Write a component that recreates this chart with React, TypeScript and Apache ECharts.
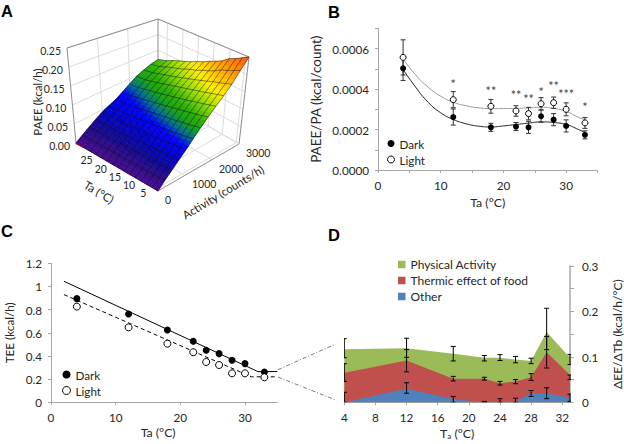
import React, { useEffect, useRef } from "react";
import * as echarts from "echarts";

const FONT = "Lato";
const TEXT = "#262626";
const AXIS = "#a6a6a6";

// ---- Panel A: PAEE surface ----
const surfaceTa = [4, 6, 8, 10, 12, 14, 16, 18, 20, 22, 24, 26, 28, 30, 33];
const surfaceActivity = [0, 250, 500, 750, 1000, 1250, 1500, 1750, 2000, 2250, 2500, 2750, 3000];
const surfacePaee = [
  [0, .017, .033, .050, .067, .087, .107, .127, .147, .167, .190, .220, .250],
  [0, .016, .032, .048, .065, .084, .103, .122, .142, .162, .184, .212, .240],
  [0, .016, .031, .047, .063, .081, .099, .118, .137, .157, .178, .204, .230],
  [0, .015, .030, .046, .061, .078, .096, .114, .133, .152, .173, .198, .222],
  [0, .015, .029, .044, .059, .075, .092, .110, .128, .147, .166, .187, .208],
  [0, .014, .028, .043, .057, .073, .089, .106, .123, .142, .160, .179, .198],
  [0, .014, .028, .042, .055, .070, .086, .102, .119, .137, .154, .172, .190],
  [0, .013, .027, .040, .053, .068, .083, .098, .114, .132, .148, .164, .180],
  [0, .013, .026, .039, .051, .065, .080, .094, .110, .127, .142, .158, .172],
  [0, .013, .025, .038, .049, .062, .076, .090, .105, .122, .136, .150, .163],
  [0, .012, .024, .036, .047, .059, .072, .086, .101, .116, .130, .143, .155],
  [0, .012, .024, .035, .046, .056, .068, .082, .097, .111, .125, .137, .148],
  [0, .012, .023, .034, .045, .054, .064, .078, .092, .106, .119, .130, .140],
  [0, .011, .023, .034, .044, .053, .061, .074, .088, .101, .113, .122, .130],
  [0, .011, .022, .033, .044, .052, .060, .072, .085, .098, .107, .115, .120],
];
const surfaceColorStops: [number, number[]][] = [
  [0, [70, 10, 140]],
  [0.015, [45, 10, 135]],
  [0.03, [14, 8, 150]],
  [0.05, [0, 0, 205]],
  [0.07, [0, 0, 250]],
  [0.085, [0, 110, 140]],
  [0.1, [20, 160, 20]],
  [0.115, [40, 175, 0]],
  [0.14, [150, 220, 0]],
  [0.165, [255, 238, 0]],
  [0.2, [255, 165, 0]],
  [0.25, [255, 80, 0]],
];
const wallPaeeTicks = [0, 0.05, 0.1, 0.15, 0.2, 0.25];
const wallActivityTicks = [1000, 2000];
const wallTaTicks = [5, 10, 15, 20, 25, 30];
const activityLabels = [0, 1000, 2000, 3000];

// ---- Panel B ----
const tempsB = [4, 12, 18, 22, 24, 26, 28, 30, 33];
const darkB = [.000503, .000262, .000211, .000215, .000211, .000266, .000249, .000218, .000174];
const darkBErr = [.00006, .00004, .00002, .00002, .00003, .00003, .00003, .00003, .00002];
const lightB = [.000557, .000348, .000315, .000292, .000279, .000328, .000333, .0003, .000233];
const lightBErr = [.000087, .00004, .000034, .000026, .000031, .00003, .000028, .000032, .000027];
const darkBTrend = [[4, .000497], [6, .00041], [8, .000335], [10, .000283], [12, .00025], [14, .000229], [16, .000217], [18, .000213], [20, .000218], [22, .000225], [24, .000232], [26, .000238], [28, .000235], [30, .000225], [32, .0002], [33, .000185]];
const lightBTrend = [[4, .00055], [6, .00047], [8, .00041], [10, .000365], [12, .000335], [14, .000318], [16, .000308], [18, .000304], [20, .000304], [22, .000305], [24, .000307], [26, .00031], [28, .000305], [30, .00029], [32, .00026], [33, .00025]];
const starsB: [number, number, string][] = [
  [12, .000438, "*"], [18, .000405, "**"], [22, .000384, "**"], [24, .000366, "**"],
  [26, .0004, "*"], [28, .000426, "**"], [30, .000389, "***"], [33, .000323, "*"],
];

// ---- Panel C ----
const tempsC = [4, 12, 18, 22, 24, 26, 28, 30, 33];
const darkC = [.895, .762, .624, .527, .45, .42, .363, .334, .262];
const lightC = [.826, .647, .506, .432, .348, .322, .25, .25, .216];
const darkCFit = [[2, 1.045], [32, .265], [35, .265]];
const lightCFit = [[2, .93], [31, .22], [35, .22]];

// ---- Panel D (upper edge of each band) ----
const tempsD = [4, 12, 18, 22, 24, 26, 28, 30, 33];
const otherTop = [0, .03, .007, 0, .002, .002, .02, .02, .01];
const thermicTop = [.065, .092, .052, .052, .042, .046, .055, .11, .06];
const activityTop = [.117, .119, .107, .098, .098, .094, .091, .155, .098];
const otherHi = [.022, .043, .013, .002, .008, .009, .026, .032, .018];
const otherLo = [0, .02, 0, 0, 0, 0, .013, .008, .002];
const thermicHi = [.085, .116, .057, .055, .046, .05, .063, .145, .06];
const thermicLo = [.046, .067, .047, .049, .038, .041, .048, .0755, .05];
const activityHi = [.14, .141, .123, .103, .105, .101, .097, .207, .105];
const activityLo = [.098, .099, .091, .091, .092, .087, .085, .116, .083];

// ---- projection of panel A (trilinear between the box's corners) ----
const boxFloor = { F: [158, 191], R: [239, 144], L: [76, 143], B: [158, 97] };
const boxTop = { F: [158, 92], R: [249, 57], L: [67, 48], B: [158, 19] };
const project = (u: number, v: number, w: number): number[] => {
  const at = (k: number) => {
    const bi = (c: any) =>
      (1 - u) * (1 - v) * c.F[k] + u * (1 - v) * c.R[k] + (1 - u) * v * c.L[k] + u * v * c.B[k];
    return bi(boxFloor) * (1 - w) + bi(boxTop) * w;
  };
  return [at(0), at(1)];
};
const uOf = (a: number) => a / 3000;
const vOf = (t: number) => (t - 4) / 29;
const wOf = (z: number) => z / 0.25;

const colorOf = (z: number): string => {
  const s = surfaceColorStops;
  for (let i = 1; i < s.length; i++) {
    if (z <= s[i][0]) {
      const t = (z - s[i - 1][0]) / (s[i][0] - s[i - 1][0]);
      const c = s[i - 1][1].map((a, k) => Math.round(a + (s[i][1][k] - a) * t));
      return `rgb(${c[0]},${c[1]},${c[2]})`;
    }
  }
  const c = s[s.length - 1][1];
  return `rgb(${c[0]},${c[1]},${c[2]})`;
};

const surfaceCells: number[][] = [];
for (let r = surfaceTa.length - 2; r >= 0; r--) {
  for (let c = surfaceActivity.length - 2; c >= 0; c--) surfaceCells.push([r, c]);
}

const renderSurfaceCell = (_p: any, api: any) => {
  const r = api.value(0);
  const c = api.value(1);
  const SUB = 3;
  const children: any[] = [];
  const pt = (a: number, b: number) => {
    const ta = surfaceTa[r] + (surfaceTa[r + 1] - surfaceTa[r]) * a;
    const ac = surfaceActivity[c] + (surfaceActivity[c + 1] - surfaceActivity[c]) * b;
    const z =
      (1 - a) * (1 - b) * surfacePaee[r][c] + (1 - a) * b * surfacePaee[r][c + 1] +
      a * (1 - b) * surfacePaee[r + 1][c] + a * b * surfacePaee[r + 1][c + 1];
    return { p: project(uOf(ac), vOf(ta), wOf(z)), z };
  };
  for (let i = SUB - 1; i >= 0; i--) {
    for (let j = SUB - 1; j >= 0; j--) {
      const q = [pt(i / SUB, j / SUB), pt(i / SUB, (j + 1) / SUB), pt((i + 1) / SUB, (j + 1) / SUB), pt((i + 1) / SUB, j / SUB)];
      const col = colorOf((q[0].z + q[1].z + q[2].z + q[3].z) / 4);
      children.push({
        type: "polygon",
        shape: { points: q.map((o) => o.p) },
        style: { fill: col, stroke: col, lineWidth: 0.6 },
      });
    }
  }
  return { type: "group", children };
};

const meshLines: number[][] = [
  ...surfaceTa.map((_, i) => [0, i]),
  ...surfaceActivity.map((_, i) => [1, i]),
];
const renderMeshLine = (_p: any, api: any) => {
  const kind = api.value(0);
  const idx = api.value(1);
  const points =
    kind === 0
      ? surfaceActivity.map((a, c) => project(uOf(a), vOf(surfaceTa[idx]), wOf(surfacePaee[idx][c])))
      : surfaceTa.map((t, r) => project(uOf(surfaceActivity[idx]), vOf(t), wOf(surfacePaee[r][idx])));
  return {
    type: "polyline",
    shape: { points },
    style: { stroke: "rgba(10,10,30,0.65)", lineWidth: 0.7, fill: "none" },
  };
};

const seg = (a: number[], b: number[], stroke: string, lineWidth = 1) => ({
  type: "line",
  shape: { x1: a[0], y1: a[1], x2: b[0], y2: b[1] },
  style: { stroke, lineWidth },
});
const label3d = (text: string, x: number, y: number, align = "center", rotation = 0, fontSize = 10.5) => ({
  type: "text",
  x,
  y,
  rotation,
  style: { text, fontFamily: FONT, fontSize, fill: TEXT, align, verticalAlign: "middle" },
});

const renderBox = () => {
  const children: any[] = [];
  const GRID = "#dcdcdc";
  const FRAME = "#8c8c8c";
  wallPaeeTicks.forEach((z) => {
    const w = wOf(z);
    children.push(seg(project(0, 1, w), project(1, 1, w), GRID));
    children.push(seg(project(1, 1, w), project(1, 0, w), GRID));
  });
  wallActivityTicks.forEach((a) => {
    const u = uOf(a);
    children.push(seg(project(u, 1, 0), project(u, 1, 1), GRID));
    children.push(seg(project(u, 0, 0), project(u, 1, 0), GRID));
  });
  wallTaTicks.forEach((t) => {
    const v = vOf(t);
    children.push(seg(project(1, v, 0), project(1, v, 1), GRID));
    children.push(seg(project(0, v, 0), project(1, v, 0), GRID));
  });
  children.push(seg(project(0, 1, 1), project(1, 1, 1), FRAME));
  children.push(seg(project(1, 1, 1), project(1, 0, 1), FRAME));
  children.push(seg(project(0, 1, 0), project(0, 1, 1), FRAME));
  children.push(seg(project(1, 0, 0), project(1, 0, 1), FRAME));
  children.push(seg(project(1, 1, 0), project(1, 1, 1), FRAME));
  children.push(seg(project(0, 0, 0), project(1, 0, 0), FRAME));
  children.push(seg(project(0, 0, 0), project(0, 1, 0), FRAME));
  children.push(seg(project(1, 0, 0), project(1, 1, 0), GRID));
  return { type: "group", children };
};

const renderBoxLabels = () => {
  const children: any[] = [];
  wallPaeeTicks.forEach((z) => {
    const p = project(0, 1, wOf(z));
    children.push(label3d(z.toFixed(2), p[0] - 6, p[1] + 3, "right"));
  });
  wallTaTicks.slice(0, 5).forEach((t) => {
    const p = project(0, vOf(t), 0);
    children.push(label3d(String(t), p[0] - 12, p[1] + 4));
  });
  activityLabels.forEach((a) => {
    const p = project(uOf(a), 0, 0);
    children.push(label3d(String(a), p[0] + 7, p[1] + 9, "left"));
  });
  children.push(label3d("PAEE (kcal/h)", 37, 102, "center", Math.PI / 2, 11.5));
  children.push(label3d("Ta (°C)", 99, 192, "center", -0.54, 11.5));
  children.push(label3d("Activity (counts/h)", 223, 192, "center", 0.54, 11.5));
  return { type: "group", children };
};

// ---- error bars ----
const errorSeries = (
  xAxisIndex: number,
  xs: number[],
  lo: number[],
  hi: number[],
  color: string,
  cap: number,
  z: number
) => ({
  type: "custom",
  xAxisIndex,
  yAxisIndex: xAxisIndex,
  clip: true,
  silent: true,
  z,
  data: xs.map((x, i) => [x, lo[i], hi[i]]),
  renderItem: (_p: any, api: any) => {
    const a = api.coord([api.value(0), api.value(1)]);
    const b = api.coord([api.value(0), api.value(2)]);
    const st = { stroke: color, lineWidth: 1 };
    return {
      type: "group",
      children: [
        { type: "line", shape: { x1: a[0], y1: a[1], x2: b[0], y2: b[1] }, style: st },
        { type: "line", shape: { x1: a[0] - cap, y1: a[1], x2: a[0] + cap, y2: a[1] }, style: st },
        { type: "line", shape: { x1: b[0] - cap, y1: b[1], x2: b[0] + cap, y2: b[1] }, style: st },
      ],
    };
  },
});

const pairs = (xs: number[], ys: number[]) => xs.map((x, i) => [x, ys[i]]);
const minus = (a: number[], b: number[]) => a.map((v, i) => v - b[i]);
const plus = (a: number[], b: number[]) => a.map((v, i) => v + b[i]);

const axisBase = {
  axisLine: { show: true, onZero: false, lineStyle: { color: AXIS, width: 1 } },
  axisTick: { show: true, length: 3, lineStyle: { color: AXIS } },
  splitLine: { show: false },
  nameTextStyle: { fontFamily: FONT, fontSize: 12.3, color: TEXT },
};
const labelBase = { fontFamily: FONT, fontSize: 11.7, color: TEXT };

const legendBase = {
  orient: "vertical",
  selectedMode: false,
  itemGap: 3,
  padding: 0,
  textStyle: { fontFamily: FONT, fontSize: 11.7, color: TEXT, lineHeight: 13 },
};
const darkIcon = { name: "Dark", icon: "circle", itemStyle: { color: "#000", borderWidth: 0 } };
const lightIcon = { name: "Light", icon: "circle", itemStyle: { color: "#fff", borderColor: "#000", borderWidth: 1 } };

const letter = (text: string, x: number, y: number) => ({
  type: "text",
  x,
  y,
  style: { text, fontFamily: "Liberation Sans", fontWeight: "bold", fontSize: 16.5, fill: "#000", align: "left", verticalAlign: "middle" },
});
const connector = (x1: number, y1: number, x2: number, y2: number) => ({
  type: "line",
  shape: { x1, y1, x2, y2 },
  style: { stroke: "#555", lineWidth: 0.8, lineDash: [4, 2, 1, 2] },
});
const bandSeries = (name: string, color: string, ys: number[]) => ({
  type: "line",
  name,
  xAxisIndex: 2,
  yAxisIndex: 2,
  showSymbol: false,
  silent: true,
  z: 2,
  lineStyle: { width: 0 },
  itemStyle: { color },
  areaStyle: { color, opacity: 1 },
  data: pairs(tempsD, ys),
});

const option: any = {
  animation: false,
  backgroundColor: "#fff",
  grid: [
    { left: 378, top: 28.5, width: 219.5, height: 141.5 },
    { left: 51, top: 263.3, width: 226.3, height: 139 },
    { left: 344.3, top: 266, width: 227.2, height: 136.3 },
  ],
  xAxis: [
    {
      ...axisBase, gridIndex: 0, type: "value", min: 0, max: 35, interval: 5,
      name: "Ta (°C)", nameLocation: "middle", nameGap: 26,
      axisLabel: { ...labelBase, margin: 9, formatter: (v: number) => (v % 10 === 0 && v < 35 ? String(v) : "") },
    },
    {
      ...axisBase, gridIndex: 1, type: "value", min: 0, max: 35, interval: 10,
      name: "Ta (°C)", nameLocation: "middle", nameGap: 24,
      nameTextStyle: { ...axisBase.nameTextStyle, padding: [0, 12, 0, 0] },
      axisLabel: { ...labelBase, margin: 9, showMaxLabel: false },
    },
    {
      ...axisBase, gridIndex: 2, type: "value", min: 4, max: 33, interval: 4,
      name: "T{sub|a} (°C)", nameLocation: "middle", nameGap: 25,
      nameTextStyle: { ...axisBase.nameTextStyle, rich: { sub: { fontFamily: FONT, fontSize: 8, color: TEXT, verticalAlign: "bottom", padding: [5, 0, 0, 0] } } },
      axisLabel: { ...labelBase, margin: 9, showMaxLabel: false },
    },
  ],
  yAxis: [
    {
      ...axisBase, gridIndex: 0, type: "value", min: 0, max: 0.0007, interval: 0.0001,
      name: "PAEE/PA (kcal/count)", nameLocation: "middle", nameGap: 55,
      nameTextStyle: { ...axisBase.nameTextStyle, fontSize: 13.5 },
      axisLabel: { ...labelBase, margin: 9, formatter: (v: number) => (Math.round(v / 0.0001) % 2 === 0 ? v.toFixed(4) : "") },
    },
    {
      ...axisBase, gridIndex: 1, type: "value", min: 0, max: 1.2, interval: 0.2,
      name: "TEE (kcal/h)", nameLocation: "middle", nameGap: 36,
      nameTextStyle: { ...axisBase.nameTextStyle, fontSize: 11.7 },
      axisLabel: { ...labelBase, margin: 9 },
    },
    {
      ...axisBase, gridIndex: 2, type: "value", min: 0, max: 0.3, interval: 0.05, position: "right",
      name: "ΔEE/ΔTb (kcal/h/°C)", nameLocation: "middle", nameGap: 41, nameRotate: 90,
      nameTextStyle: { ...axisBase.nameTextStyle, fontSize: 12 },
      axisLine: { show: true, onZero: false, lineStyle: { color: "#bfbfbf", width: 2 } },
      axisTick: { show: true, length: 4, lineStyle: { color: AXIS } },
      axisLabel: { ...labelBase, margin: 12, formatter: (v: number) => (Math.round(v * 100) % 10 === 0 ? String(v) : "") },
    },
  ],
  legend: [
    { ...legendBase, left: 387, top: 137, itemWidth: 7, itemHeight: 7, data: [darkIcon, lightIcon] },
    { ...legendBase, left: 62, top: 368, itemWidth: 8, itemHeight: 8, data: [darkIcon, lightIcon] },
    {
      ...legendBase, left: 398, top: 258, itemWidth: 7.5, itemHeight: 7.5,
      textStyle: { ...legendBase.textStyle, fontSize: 12 },
      data: [
        { name: "Physical Activity", icon: "rect" },
        { name: "Thermic effect of food", icon: "rect" },
        { name: "Other", icon: "rect" },
      ],
    },
  ],
  graphic: [
    letter("A", 1, 11),
    letter("B", 328, 12),
    letter("C", 1, 231),
    letter("D", 328, 235),
    connector(278, 369.7, 335, 344.3),
    connector(278, 377, 335, 399.7),
    { type: "line", shape: { x1: 75.5, y1: 143.5, x2: 83, y2: 147.5 }, z: 20, style: { stroke: "#d01010", lineWidth: 1 } },
  ],
  series: [
    { type: "custom", coordinateSystem: "none", silent: true, z: 1, data: [[0]], renderItem: renderBox },
    { type: "custom", coordinateSystem: "none", silent: true, z: 2, progressive: 0, data: surfaceCells, renderItem: renderSurfaceCell },
    { type: "custom", coordinateSystem: "none", silent: true, z: 3, data: meshLines, renderItem: renderMeshLine },
    { type: "custom", coordinateSystem: "none", silent: true, z: 4, data: [[0]], renderItem: renderBoxLabels },

    { type: "line", xAxisIndex: 0, yAxisIndex: 0, smooth: 0.5, showSymbol: false, silent: true, z: 2, lineStyle: { color: "#222", width: 1 }, data: darkBTrend },
    { type: "line", xAxisIndex: 0, yAxisIndex: 0, smooth: 0.5, showSymbol: false, silent: true, z: 2, lineStyle: { color: "#999", width: 1 }, data: lightBTrend },
    errorSeries(0, tempsB, minus(darkB, darkBErr), plus(darkB, darkBErr), "#333", 2.5, 3),
    errorSeries(0, tempsB, minus(lightB, lightBErr), plus(lightB, lightBErr), "#333", 2.5, 3),
    { type: "scatter", name: "Dark", xAxisIndex: 0, yAxisIndex: 0, symbolSize: 6, z: 4, itemStyle: { color: "#000", opacity: 1 }, data: pairs(tempsB, darkB) },
    { type: "scatter", name: "Light", xAxisIndex: 0, yAxisIndex: 0, symbolSize: 6, z: 4, itemStyle: { color: "#fff", borderColor: "#000", borderWidth: 1, opacity: 1 }, data: pairs(tempsB, lightB) },
    {
      type: "scatter", xAxisIndex: 0, yAxisIndex: 0, symbolSize: 1, silent: true, z: 5, itemStyle: { color: "rgba(0,0,0,0)" },
      label: { show: true, position: "inside", offset: [0, 3], fontFamily: FONT, fontSize: 12.5, lineHeight: 7, color: "#000", formatter: (p: any) => p.data[2] },
      data: starsB,
    },

    { type: "line", xAxisIndex: 1, yAxisIndex: 1, showSymbol: false, silent: true, z: 2, lineStyle: { color: "#000", width: 1 }, data: darkCFit },
    { type: "line", xAxisIndex: 1, yAxisIndex: 1, showSymbol: false, silent: true, z: 2, lineStyle: { color: "#000", width: 1, type: [4, 3] }, data: lightCFit },
    { type: "scatter", name: "Dark", xAxisIndex: 1, yAxisIndex: 1, symbolSize: 7, z: 4, itemStyle: { color: "#000", opacity: 1 }, data: pairs(tempsC, darkC) },
    { type: "scatter", name: "Light", xAxisIndex: 1, yAxisIndex: 1, symbolSize: 7, z: 4, itemStyle: { color: "#fff", borderColor: "#000", borderWidth: 1, opacity: 1 }, data: pairs(tempsC, lightC) },

    bandSeries("Physical Activity", "#9BBB59", activityTop),
    bandSeries("Thermic effect of food", "#C0504D", thermicTop),
    bandSeries("Other", "#4F81BD", otherTop),
    errorSeries(2, tempsD, otherLo, otherHi, "#000", 2.5, 3),
    errorSeries(2, tempsD, thermicLo, thermicHi, "#000", 2.5, 3),
    errorSeries(2, tempsD, activityLo, activityHi, "#000", 2.5, 3),
  ],
};

export default function App() {
  const ref = useRef<HTMLDivElement>(null);
  useEffect(() => {
    const chart = echarts.init(ref.current as HTMLDivElement, undefined, { renderer: "svg" });
    chart.setOption(option);
    return () => chart.dispose();
  }, []);
  return <div ref={ref} style={{ position: "fixed", left: 0, top: 0, width: 624, height: 444 }} />;
}
